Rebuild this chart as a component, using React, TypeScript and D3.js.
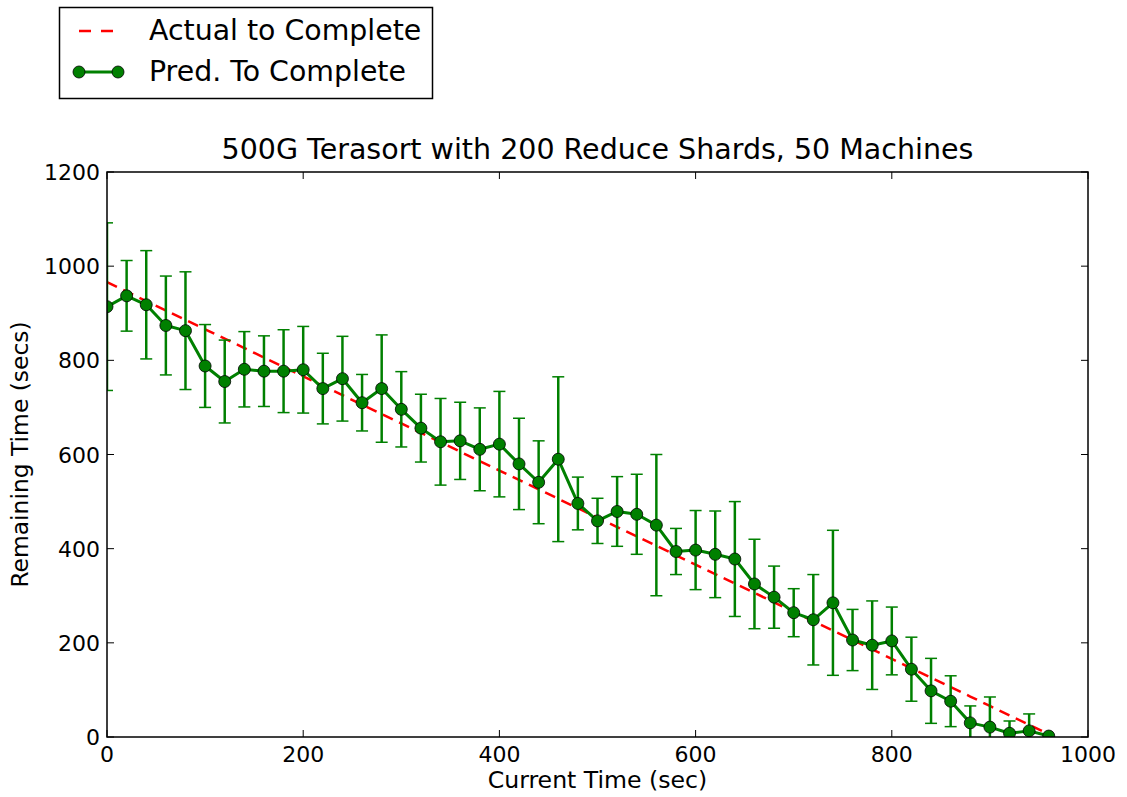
import React from "react";
import * as d3 from "d3";

const times = [0,20,40,60,80,100,120,140,160,180,200,220,240,260,280,300,320,340,360,380,400,420,440,460,480,500,520,540,560,580,600,620,640,660,680,700,720,740,760,780,800,820,840,860,880,900,920,940,960];
const predicted = [914,937,918,874,863,788,755,781,777,777,780,740,761,710,740,696,656,627,629,611,622,580,541,590,496,459,479,473,450,394,397,388,378,325,297,264,249,285,206,195,204,144,98,76,30,21,8,13,2];
const predErr = [178,75,115,105,125,88,88,80,75,88,92,75,90,60,114,80,72,92,82,88,112,97,88,175,56,48,74,85,150,49,84,92,122,95,66,51,96,154,65,94,72,68,69,54,36,64,26,36,0];
const actual = [966,946,926,906,886,866,846,826,806,786,766,746,726,706,686,666,646,626,606,586,566,546,526,506,486,466,446,426,406,386,366,346,326,306,286,266,246,226,206,186,166,146,126,106,86,66,46,26,6];
const xTicks = [0,200,400,600,800,1000];
const yTicks = [0,200,400,600,800,1000,1200];

const title = "500G Terasort with 200 Reduce Shards, 50 Machines";
const xLabel = "Current Time (sec)";
const yLabel = "Remaining Time (secs)";
const legendLabels = ["Actual to Complete", "Pred. To Complete"];

const W = 1127, H = 797;
const L = 107, R = 1088, T = 172, B = 737;
const FONT = "DejaVu Sans, Verdana, sans-serif";
const GREEN = "#008000";

export default function App() {
  const x = d3.scaleLinear().domain([0, 1000]).range([L, R]);
  const y = d3.scaleLinear().domain([0, 1200]).range([B, T]);
  const line = d3.line<number>().x((_, i) => x(times[i])).y((d) => y(d));
  const capW = 6;

  return (
    <svg width={W} height={H} style={{ position: "absolute", left: 0, top: 0, background: "#fff" }}
      xmlns="http://www.w3.org/2000/svg">
      <defs>
        <clipPath id="plotClip">
          <rect x={L} y={T} width={R - L} height={B - T} />
        </clipPath>
      </defs>
      <rect x={0} y={0} width={W} height={H} fill="#fff" />
      <g clipPath="url(#plotClip)">
        <path d={line(actual) || ""} fill="none" stroke="#ff0000" strokeWidth={2.5} strokeDasharray="11,7" />
        {predicted.map((v, i) => {
          const e = predErr[i];
          if (!e) return null;
          const cx = x(times[i]);
          return (
            <g key={"e" + i} stroke={GREEN}>
              <line x1={cx} x2={cx} y1={y(v - e)} y2={y(v + e)} strokeWidth={2.5} />
              <line x1={cx - capW} x2={cx + capW} y1={y(v - e)} y2={y(v - e)} strokeWidth={1.5} />
              <line x1={cx - capW} x2={cx + capW} y1={y(v + e)} y2={y(v + e)} strokeWidth={1.5} />
            </g>
          );
        })}
        <path d={line(predicted) || ""} fill="none" stroke={GREEN} strokeWidth={3} strokeLinejoin="round" />
        {predicted.map((v, i) => (
          <circle key={"m" + i} cx={x(times[i])} cy={y(v)} r={6} fill={GREEN} stroke="#000" strokeWidth={0.8} />
        ))}
      </g>
      {/* axes frame */}
      <rect x={L} y={T} width={R - L} height={B - T} fill="none" stroke="#000" strokeWidth={1.5} />
      {xTicks.map((t) => (
        <g key={"xt" + t}>
          <line x1={x(t)} x2={x(t)} y1={B} y2={B - 7} stroke="#000" strokeWidth={1} />
          <line x1={x(t)} x2={x(t)} y1={T} y2={T + 7} stroke="#000" strokeWidth={1} />
          <text x={x(t)} y={762} textAnchor="middle" fontFamily={FONT} fontSize={22} fill="#000">{t}</text>
        </g>
      ))}
      {yTicks.map((t) => (
        <g key={"yt" + t}>
          <line x1={L} x2={L + 7} y1={y(t)} y2={y(t)} stroke="#000" strokeWidth={1} />
          <line x1={R} x2={R - 7} y1={y(t)} y2={y(t)} stroke="#000" strokeWidth={1} />
          <text x={100} y={y(t) + 8} textAnchor="end" fontFamily={FONT} fontSize={22} fill="#000">{t}</text>
        </g>
      ))}
      <text x={(L + R) / 2} y={159} textAnchor="middle" fontFamily={FONT} fontSize={28.5} fill="#000">{title}</text>
      <text x={(L + R) / 2} y={788} textAnchor="middle" fontFamily={FONT} fontSize={23.6} fill="#000">{xLabel}</text>
      <text transform={`translate(28,${(T + B) / 2}) rotate(-90)`} textAnchor="middle" fontFamily={FONT} fontSize={23.4} fill="#000">{yLabel}</text>
      {/* legend */}
      <rect x={59.5} y={7.5} width={373} height={91} fill="#fff" stroke="#000" strokeWidth={1.5} />
      <line x1={79} x2={116} y1={31} y2={31} stroke="#ff0000" strokeWidth={2.5} strokeDasharray="12,10" />
      <text x={149} y={40} fontFamily={FONT} fontSize={28.4} fill="#000">{legendLabels[0]}</text>
      <line x1={79} x2={118} y1={72} y2={72} stroke={GREEN} strokeWidth={3} />
      <circle cx={79} cy={72} r={6} fill={GREEN} stroke="#000" strokeWidth={0.8} />
      <circle cx={118} cy={72} r={6} fill={GREEN} stroke="#000" strokeWidth={0.8} />
      <text x={149} y={81} fontFamily={FONT} fontSize={28.4} fill="#000">{legendLabels[1]}</text>
    </svg>
  );
}
